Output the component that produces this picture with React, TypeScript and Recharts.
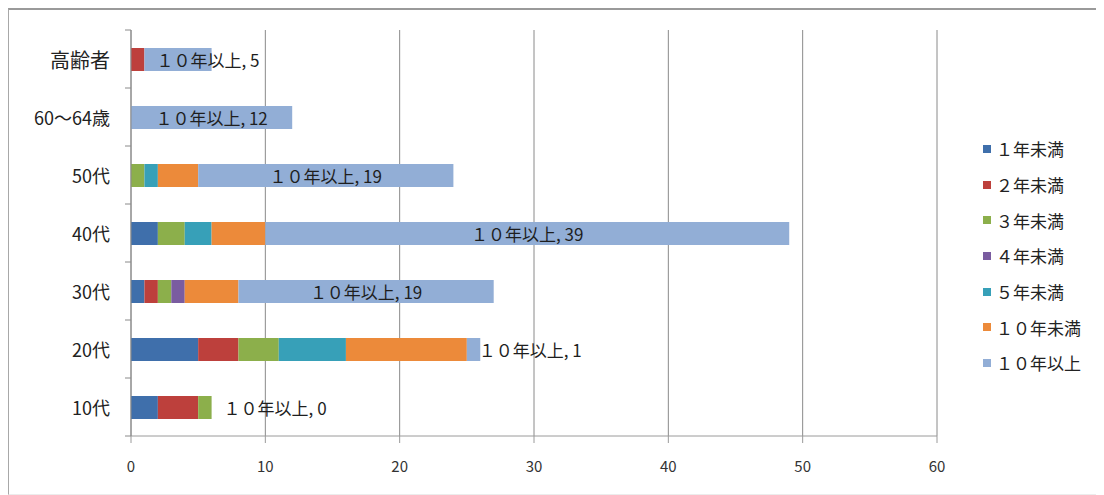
import React from 'react';
import { BarChart, Bar, XAxis, YAxis, CartesianGrid, Legend, LabelList } from 'recharts';

const categories = ['高齢者', '60〜64歳', '50代', '40代', '30代', '20代', '10代'];
const seriesNames = ['１年未満', '２年未満', '３年未満', '４年未満', '５年未満', '１０年未満', '１０年以上'];
const lt1 = [0, 0, 0, 2, 1, 5, 2];
const lt2 = [1, 0, 0, 0, 1, 3, 3];
const lt3 = [0, 0, 1, 2, 1, 3, 1];
const lt4 = [0, 0, 0, 0, 1, 0, 0];
const lt5 = [0, 0, 1, 2, 0, 5, 0];
const lt10 = [0, 0, 3, 4, 4, 9, 0];
const ge10 = [5, 12, 19, 39, 19, 1, 0];
const xTicks = [0, 10, 20, 30, 40, 50, 60];

const colors = ['#3F6FAB', '#BD403C', '#8CAF4B', '#7A5CA0', '#37A0B8', '#EC8A3A', '#92AED6'];
const keys = ['s1', 's2', 's3', 's4', 's5', 's6', 's7'];
const seriesValues = [lt1, lt2, lt3, lt4, lt5, lt10, ge10];

const data = categories.map((name, i) => {
  const row: any = { name };
  keys.forEach((k, j) => { row[k] = seriesValues[j][i]; });
  return row;
});

const FONT = '"Noto Sans CJK JP", "Noto Sans", sans-serif';
const W = 1094;
const H = 483;
const M = { top: 20, right: 166, bottom: 22, left: 22 };
const Y_W = 100;
const X_H = 35;
const PLOT_H = H - M.top - M.bottom - X_H;
const STEP = PLOT_H / categories.length;

const YTick = (props: any) => {
  const { x, y, payload, index } = props;
  const big = payload.value === '高齢者';
  return (
    <g>
      <line x1={x - 6} x2={x} y1={y - STEP / 2} y2={y - STEP / 2} stroke="#8a8a8a" />
      {index === categories.length - 1 && (
        <line x1={x - 6} x2={x} y1={y + STEP / 2} y2={y + STEP / 2} stroke="#8a8a8a" />
      )}
      <text x={x - 21} y={y} textAnchor="end" dominantBaseline="central" fontSize={big ? 20 : 18} fill="#222" fontFamily={FONT}>
        {payload.value}
      </text>
    </g>
  );
};

const DataLabel = (props: any) => {
  const { x, y, width, height, value } = props;
  const fs = 17;
  const text = `１０年以上, ${value}`;
  const est = 5 * fs + 0.55 * fs * (2 + String(value).length);
  const w = Number(width) || 0;
  const fits = w >= est + 6;
  return (
    <text
      x={fits ? x + w / 2 : x + 12}
      y={y + height / 2}
      textAnchor={fits ? 'middle' : 'start'}
      dominantBaseline="central"
      fontSize={fs}
      fill="#1e1e1e"
      fontFamily={FONT}
    >
      {text}
    </text>
  );
};

const LegendContent = () => (
  <div style={{ fontFamily: FONT }}>
    {seriesNames.map((n, j) => (
      <div key={n} style={{ height: 35.7, display: 'flex', alignItems: 'center' }}>
        <span style={{ width: 8, height: 8, background: colors[j], display: 'inline-block', marginRight: 5 }} />
        <span style={{ fontSize: 17, color: '#222', lineHeight: 1 }}>{n}</span>
      </div>
    ))}
  </div>
);

export default function App() {
  return (
    <div
      style={{
        width: W,
        height: H + 1,
        borderTop: '2px solid #9a9a9a',
        borderLeft: '1px solid #a8a8a8',
        borderRight: '1px solid #ececec',
        borderBottom: '1px solid #ececec',
        background: '#fff',
      }}
    >
      <BarChart width={W} height={H} data={data} layout="vertical" margin={M} barSize={23}>
        <CartesianGrid horizontal={false} vertical stroke="#8a8a8a" />
        <XAxis
          type="number"
          domain={[0, 60]}
          ticks={xTicks}
          interval={0}
          height={X_H}
          axisLine={{ stroke: '#9a9a9a' }}
          tickLine={{ stroke: '#9a9a9a' }}
          tickSize={7}
          tickMargin={18}
          tick={{ fontSize: 15, fill: '#333', fontFamily: FONT }}
        />
        <YAxis
          type="category"
          dataKey="name"
          width={Y_W}
          axisLine={{ stroke: '#8a8a8a' }}
          tickLine={false}
          tickSize={0}
          tickMargin={0}
          interval={0}
          tick={<YTick />}
        />
        <Legend
          layout="vertical"
          align="center"
          verticalAlign="middle"
          wrapperStyle={{ left: 974, top: 121, width: 120 }}
          content={<LegendContent />}
        />
        {keys.map((k, j) => (
          <Bar
            key={k}
            dataKey={k}
            name={seriesNames[j]}
            stackId="a"
            fill={colors[j]}
            isAnimationActive={false}
            minPointSize={j === keys.length - 1 ? 0.01 : 0}
          >
            {j === keys.length - 1 && <LabelList dataKey={k} content={<DataLabel />} />}
          </Bar>
        ))}
      </BarChart>
    </div>
  );
}
